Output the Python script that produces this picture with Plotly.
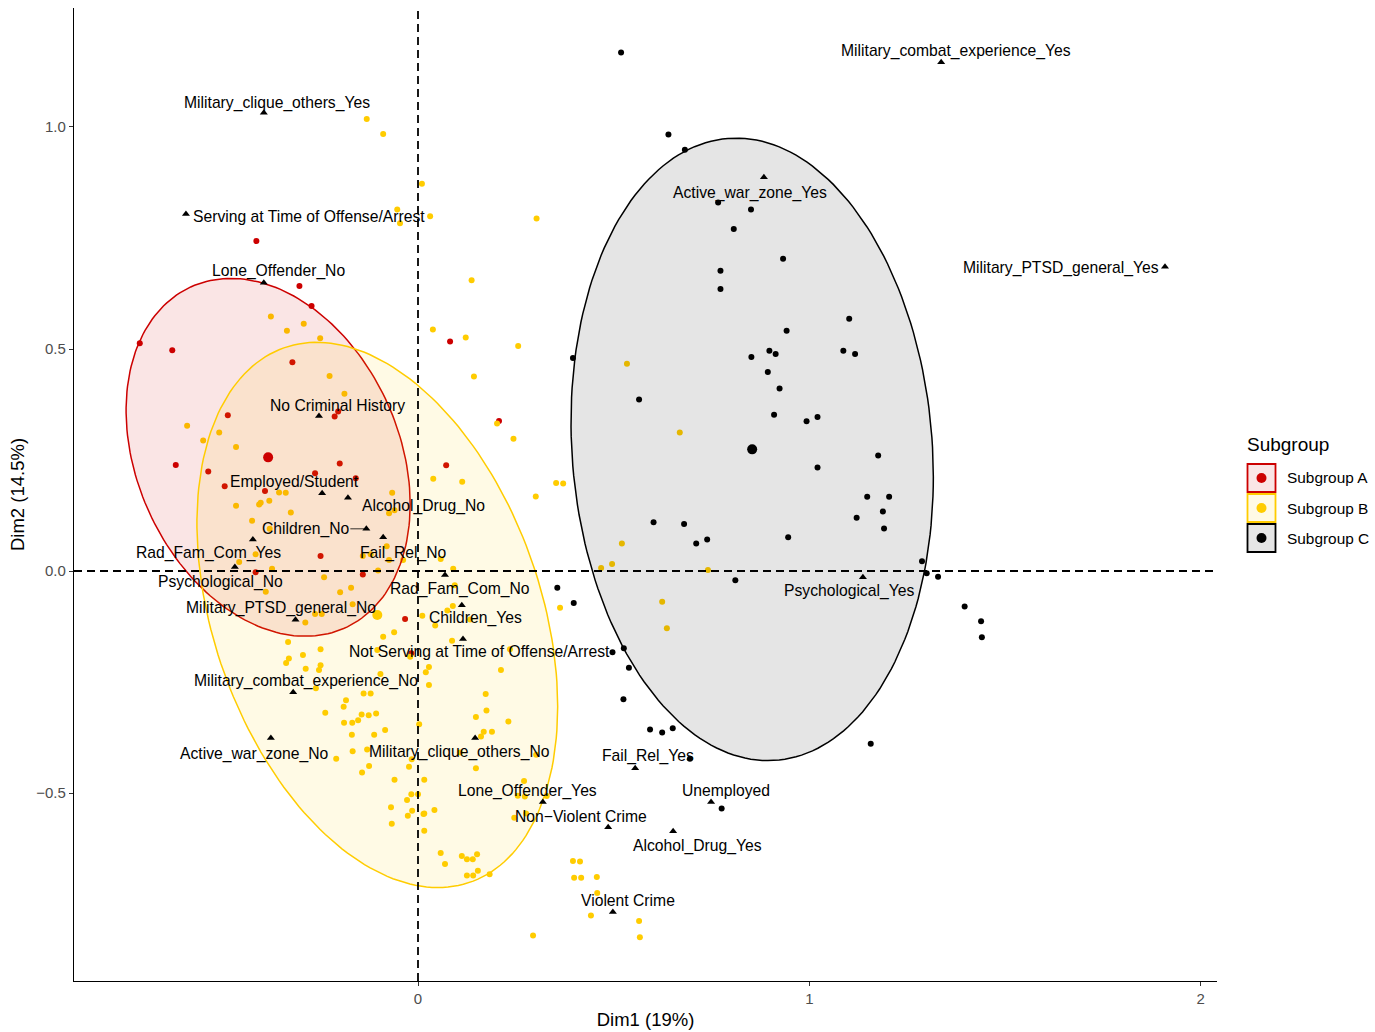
import numpy as np
import plotly.graph_objects as go

# ---------------- data ----------------
subgroups = ["Subgroup A", "Subgroup B", "Subgroup C"]

a_x = [-0.711, -0.628, -0.321, -0.486, -0.204, -0.213, -0.619, -0.536, -0.200, -0.263,
       -0.159, -0.494, -0.391, -0.249, -0.415, -0.141, -0.033, 0.072, 0.082, -0.017,
       -0.413, -0.303, -0.272, 0.207]
a_y = [0.513, 0.497, 0.470, 0.351, 0.359, 0.348, 0.239, 0.224, 0.242, 0.220,
       0.209, 0.191, 0.180, 0.034, -0.003, -0.008, -0.108, 0.238, 0.517, -0.185,
       0.743, 0.642, 0.597, 0.338]

b_x = [-0.131, -0.089, 0.010, -0.053, 0.031, -0.046, 0.137, -0.376, -0.292, -0.335,
       0.038, 0.303, -0.250, -0.226, -0.188, -0.590, -0.549, -0.508, -0.465, -0.355,
       -0.338, -0.380, -0.406, -0.402, -0.465, -0.325, -0.066, -0.074, -0.060, -0.424,
       -0.379, -0.080, -0.141, -0.121, -0.074, -0.038, 0.058, -0.415, -0.457, -0.373,
       -0.102, -0.240, -0.171, -0.199, -0.389, -0.167, -0.263, -0.246, -0.288, -0.089,
       -0.061, -0.332, -0.249, -0.294, 0.011, 0.089, 0.075, 0.087, 0.133, 0.039,
       0.113, 0.122, 0.143, 0.256, 0.202, 0.244, 0.301, 0.353, 0.371, 0.534,
       0.669, 0.521, 0.496, 0.468, 0.741, 0.090, 0.094, 0.044, 0.363, 0.624,
       0.636, 0.235, 0.212, 0.028, 0.020, 0.028, 0.173, 0.175, 0.148, 0.231,
       0.168, 0.189, 0.161, 0.302, 0.003, 0.148, 0.016, 0.271, 0.255, 0.273,
       0.329, 0.016, 0.042, 0.246, 0.276, 0.016, 0.058, 0.069, 0.112, 0.125,
       0.140, 0.151, 0.125, 0.141, 0.153, 0.183, 0.396, 0.414, 0.399, 0.417,
       0.457, 0.458, 0.442, 0.565, 0.567, 0.294, -0.330, -0.337, -0.249, -0.253,
       -0.287, -0.261, -0.104, -0.020, -0.096, -0.139, -0.121, -0.184, -0.190, -0.237,
       -0.144, -0.126, -0.107, -0.189, -0.168, -0.153, -0.084, -0.112, -0.169, -0.167,
       -0.209, -0.130, -0.016, -0.023, -0.125, -0.143, -0.060, -0.017, -0.028, 0.000,
       -0.069, -0.015, -0.026, 0.014, -0.067, 0.107]
b_y = [1.018, 0.984, 0.872, 0.814, 0.799, 0.783, 0.655, 0.573, 0.557, 0.541,
       0.544, 0.794, 0.524, 0.439, 0.399, 0.327, 0.294, 0.312, 0.279, 0.177,
       0.176, 0.158, 0.150, 0.154, 0.147, 0.132, 0.176, 0.130, 0.137, 0.113,
       0.095, 0.056, 0.034, 0.038, 0.025, 0.025, 0.027, 0.038, 0.020, 0.005,
       0.001, -0.014, -0.038, -0.048, -0.047, -0.075, -0.097, -0.097, -0.116, -0.148,
       -0.138, -0.160, -0.176, -0.189, -0.101, -0.079, -0.089, -0.157, -0.109, 0.208,
       0.201, 0.526, 0.438, 0.507, 0.332, 0.298, 0.168, 0.198, 0.197, 0.467,
       0.312, 0.062, 0.016, 0.007, 0.002, 0.005, -0.032, -0.123, -0.083, -0.069,
       -0.129, -0.176, -0.223, -0.216, -0.228, -0.257, -0.277, -0.314, -0.329, -0.339,
       -0.362, -0.362, -0.373, -0.414, -0.345, -0.444, -0.470, -0.473, -0.506, -0.508,
       -0.507, -0.546, -0.538, -0.556, -0.546, -0.585, -0.635, -0.660, -0.642, -0.649,
       -0.649, -0.638, -0.686, -0.686, -0.675, -0.683, -0.653, -0.654, -0.691, -0.691,
       -0.689, -0.725, -0.776, -0.788, -0.825, -0.821, -0.197, -0.207, -0.212, -0.223,
       -0.220, -0.264, -0.178, -0.193, -0.232, -0.276, -0.276, -0.291, -0.306, -0.319,
       -0.323, -0.325, -0.321, -0.342, -0.342, -0.336, -0.358, -0.369, -0.369, -0.406,
       -0.423, -0.402, -0.424, -0.441, -0.439, -0.454, -0.470, -0.503, -0.516, -0.503,
       -0.532, -0.540, -0.551, -0.547, -0.569, -0.409]

c_x = [0.519, 0.640, 0.682, 0.767, 0.851, 0.807, 0.933, 0.773, 0.773, 0.942,
       1.102, 0.396, 0.852, 0.898, 0.914, 0.894, 0.924, 0.565, 0.910, 0.993,
       1.021, 1.021, 0.602, 0.680, 0.711, 0.739, 0.946, 0.811, 0.356, 0.398,
       0.526, 0.497, 1.087, 1.117, 1.176, 1.148, 1.204, 1.121, 1.188, 1.191,
       1.288, 1.300, 1.329, 1.397, 1.439, 1.441, 0.539, 0.525, 0.593, 0.624,
       0.651, 0.695, 0.776, 1.157]
c_y = [1.168, 0.983, 0.949, 0.830, 0.814, 0.770, 0.703, 0.676, 0.635, 0.541,
       0.568, 0.480, 0.482, 0.496, 0.489, 0.448, 0.411, 0.386, 0.352, 0.337,
       0.347, 0.233, 0.110, 0.106, 0.062, 0.071, 0.076, -0.021, -0.038, -0.072,
       -0.174, -0.183, 0.496, 0.489, 0.260, 0.167, 0.167, 0.120, 0.134, 0.096,
       0.022, -0.005, -0.013, -0.080, -0.113, -0.149, -0.218, -0.289, -0.357, -0.364,
       -0.354, -0.423, -0.535, -0.389]

# group mean points
center_x = [-0.383, -0.104, 0.854]
center_y = [0.256, -0.099, 0.274]

# concentration ellipses: sd along x, sd along y, covariance term
ell_sx = [0.363, 0.461, 0.463]
ell_sy = [0.403, 0.614, 0.701]
ell_sxy = [-0.0384, -0.0950, -0.0286]

cat_labels = ["Military_clique_others_Yes", "Military_combat_experience_Yes",
              "Serving at Time of Offense/Arrest", "Lone_Offender_No", "Active_war_zone_Yes",
              "Military_PTSD_general_Yes", "No Criminal History", "Employed/Student",
              "Alcohol_Drug_No", "Children_No", "Fail_Rel_No", "Rad_Fam_Com_Yes",
              "Psychological_No", "Military_PTSD_general_No", "Rad_Fam_Com_No", "Children_Yes",
              "Not Serving at Time of Offense/Arrest", "Military_combat_experience_No",
              "Active_war_zone_No", "Military_clique_others_No", "Fail_Rel_Yes",
              "Lone_Offender_Yes", "Unemployed", "Non\u2212Violent Crime", "Alcohol_Drug_Yes",
              "Violent Crime", "Psychological_Yes"]
cat_x = [-0.394, 1.337, -0.593, -0.394, 0.884, 1.909, -0.253, -0.245, -0.179, -0.132,
         -0.089, -0.422, -0.468, -0.313, 0.069, 0.112, 0.115, -0.319, -0.376, 0.146,
         0.555, 0.319, 0.749, 0.486, 0.652, 0.498, 1.137]
cat_y = [1.032, 1.146, 0.804, 0.649, 0.887, 0.685, 0.349, 0.175, 0.165, 0.095,
         0.076, 0.071, 0.009, -0.110, -0.009, -0.077, -0.153, -0.273, -0.376, -0.376,
         -0.444, -0.520, -0.520, -0.577, -0.586, -0.768, -0.014]

# ---------------- styling ----------------
colors = ["#CC0000", "#FFCC00", "#000000"]
fills = ["rgba(204,0,0,0.1)", "rgba(255,204,0,0.1)", "rgba(0,0,0,0.1)"]
# label offsets (pixels, from the point to the label centre)
lab_dx = [13, 15, 123, 15, -14, -104, 18, -28, 76, -61, 20, -44, -14, -15, 15, 14, 16, 13,
          -16, -16, 13, -15, 15, -27, 24, 15, -14]
lab_dy = [-10, -11, 2, -12, 16, 1, -11, -12, 8, 0, 16, 14, 15, -12, 14, 13, 13, -11,
          16, 14, -12, -11, -11, -11, 15, -12, 14]

FONT = "Liberation Sans, Arial, Helvetica, sans-serif"

fig = go.Figure()

pts = [(a_x, a_y), (b_x, b_y), (c_x, c_y)]
for (px, py), col, name in zip(pts, colors, subgroups):
    fig.add_trace(go.Scatter(x=px, y=py, mode="markers", name=name, showlegend=False,
                             marker=dict(color=col, size=6, line=dict(width=0))))

t = np.linspace(0, 2 * np.pi, 200)
for i, name in enumerate(subgroups):
    S = np.array([[ell_sx[i] ** 2, ell_sxy[i]], [ell_sxy[i], ell_sy[i] ** 2]])
    L = np.linalg.cholesky(S)
    pts_e = L @ np.vstack([np.cos(t), np.sin(t)])
    fig.add_trace(go.Scatter(x=center_x[i] + pts_e[0], y=center_y[i] + pts_e[1],
                             mode="lines", fill="toself", fillcolor=fills[i],
                             line=dict(color=colors[i], width=1.5), showlegend=False,
                             hoverinfo="skip", name=name))

for i, name in enumerate(subgroups):
    fig.add_trace(go.Scatter(x=[center_x[i]], y=[center_y[i]], mode="markers", showlegend=False,
                             name=name + " mean",
                             marker=dict(color=colors[i], size=10, line=dict(width=0))))

fig.add_trace(go.Scatter(x=cat_x, y=cat_y, mode="markers", showlegend=False, text=cat_labels,
                         marker=dict(symbol="triangle-up", color="black", size=7, line=dict(width=0))))

annotations = []
for lbl, x, y, dx, dy in zip(cat_labels, cat_x, cat_y, lab_dx, lab_dy):
    seg = lbl == "Children_No"
    annotations.append(dict(x=x, y=y, xref="x", yref="y", text=lbl, showarrow=True,
                            ax=dx, ay=dy, xanchor="center", yanchor="middle",
                            arrowhead=0, arrowwidth=0.8 if seg else 0.1,
                            arrowcolor="black" if seg else "rgba(0,0,0,0)",
                            standoff=2, font=dict(family=FONT, size=15.7, color="black")))

# manual legend (ggplot style key boxes)
X0, X1, Y0, Y1 = 74, 1217, 8, 981
def px_x(p):
    return (p - X0) / (X1 - X0)
def px_y(p):
    return (Y1 - p) / (Y1 - Y0)

shapes = [
    dict(type="line", xref="x", yref="paper", x0=0, x1=0, y0=0, y1=1,
         line=dict(color="black", width=1.8, dash="8px,5px")),
    dict(type="line", xref="paper", yref="y", x0=0, x1=1, y0=0, y1=0,
         line=dict(color="black", width=1.8, dash="8px,5px")),
]
annotations.append(dict(x=px_x(1245), y=px_y(445), xref="paper", yref="paper", text="Subgroup",
                        showarrow=False, xanchor="left", yanchor="middle",
                        font=dict(family=FONT, size=19, color="black")))
for i, name in enumerate(subgroups):
    top = 464 + i * 30
    shapes.append(dict(type="rect", xref="paper", yref="paper", x0=px_x(1247.5), x1=px_x(1275.5),
                       y0=px_y(top), y1=px_y(top + 28), fillcolor=fills[i],
                       line=dict(color=colors[i], width=1.8)))
    cy = top + 14
    shapes.append(dict(type="circle", xref="paper", yref="paper", x0=px_x(1256.5), x1=px_x(1266.5),
                       y0=px_y(cy - 5), y1=px_y(cy + 5), fillcolor=colors[i],
                       line=dict(width=0)))
    annotations.append(dict(x=px_x(1285), y=px_y(cy), xref="paper", yref="paper", text=name,
                            showarrow=False, xanchor="left", yanchor="middle",
                            font=dict(family=FONT, size=15.4, color="black")))

fig.update_layout(
    width=1375, height=1032,
    margin=dict(l=74, r=158, t=8, b=51, autoexpand=False),
    plot_bgcolor="white", paper_bgcolor="white",
    showlegend=False,
    shapes=shapes, annotations=annotations,
    font=dict(family=FONT),
    xaxis=dict(range=[-0.8791, 2.0419], tickvals=[0, 1, 2], showgrid=False, zeroline=False,
               showline=True, linecolor="black", linewidth=1.2, ticks="outside", ticklen=4,
               tickcolor="#333333", tickfont=dict(size=15, color="#4D4D4D", family=FONT),
               automargin=False,
               title=dict(text="Dim1 (19%)", font=dict(size=18.5, color="black", family=FONT),
                          standoff=6)),
    yaxis=dict(range=[-0.9234, 1.268], tickvals=[-0.5, 0, 0.5, 1.0], tickformat=".1f",
               showgrid=False, zeroline=False, showline=True, linecolor="black", linewidth=1.2,
               ticks="outside", ticklen=4, tickcolor="#333333", automargin=False,
               tickfont=dict(size=15, color="#4D4D4D", family=FONT),
               title=dict(text="Dim2 (14.5%)", font=dict(size=18.5, color="black", family=FONT),
                          standoff=6)),
)

fig.write_html("out.html", config={"displayModeBar": False},
               post_script="document.body.style.margin='0px';document.body.style.overflow='hidden';")
